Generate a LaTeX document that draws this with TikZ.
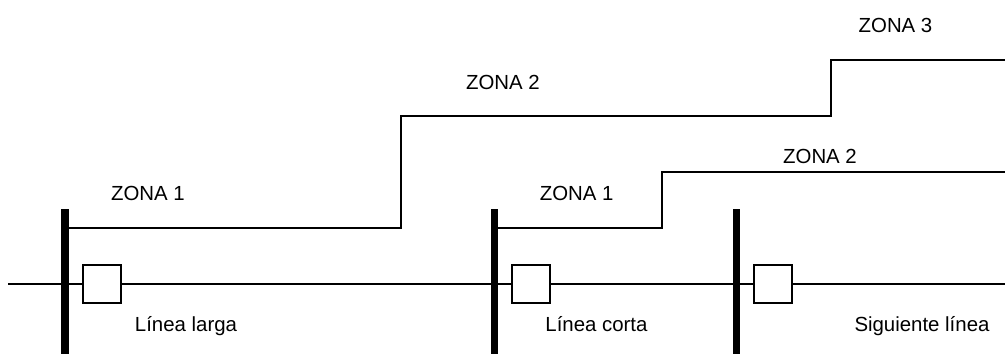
\documentclass[tikz,border=0pt]{standalone}
\usepackage{fontspec}
\setmainfont{Liberation Sans}
\begin{document}
\begin{tikzpicture}[x=1pt,y=-1pt,
  bus/.style={line width=7.4pt,black},
  wire/.style={line width=1.6pt,black,line join=miter},
  breaker/.style={draw=black,line width=1.6pt,fill=white,minimum size=38pt,inner sep=0pt,outer sep=0pt},
  lbl/.style={inner sep=0pt,anchor=base,font=\fontsize{20.4pt}{24pt}\selectfont}]
\useasboundingbox (0,0) rectangle (1005,354);
\coordinate (L0) at (8,284);
\coordinate (L1) at (1005,284);
\draw[wire] (L0) -- (L1);
\coordinate (b1t) at (65,209); \coordinate (b1b) at (65,354);
\coordinate (b2t) at (494.3,209); \coordinate (b2b) at (494.3,354);
\coordinate (b3t) at (736.3,209); \coordinate (b3b) at (736.3,354);
\draw[bus] (b1t) -- (b1b);
\draw[bus] (b2t) -- (b2b);
\draw[bus] (b3t) -- (b3b);
\node[breaker] (k1) at (102,284) {};
\node[breaker] (k2) at (531,284) {};
\node[breaker] (k3) at (773,284) {};
\coordinate (z1s) at (65,228);
\coordinate (z2e) at (1005,60);
\coordinate (z3s) at (494.3,228);
\coordinate (z4e) at (1005,172);
\draw[wire] (z1s) -- (401,228) -- (401,116) -- (831,116) -- (831,60) -- (z2e);
\draw[wire] (z3s) -- (662,228) -- (662,172) -- (z4e);
\node[lbl] (t1) at (148,200.3) {ZONA 1};
\node[lbl] (t2) at (503,89) {ZONA 2};
\node[lbl] (t3) at (895.5,32.3) {ZONA 3};
\node[lbl] (t4) at (576.7,200.3) {ZONA 1};
\node[lbl] (t5) at (820,163.3) {ZONA 2};
\node[lbl] (t6) at (186,331.3) {Línea larga};
\node[lbl] (t7) at (596.5,331.3) {Línea corta};
\node[lbl] (t8) at (922,331.3) {Siguiente línea};
\end{tikzpicture}
\end{document}
